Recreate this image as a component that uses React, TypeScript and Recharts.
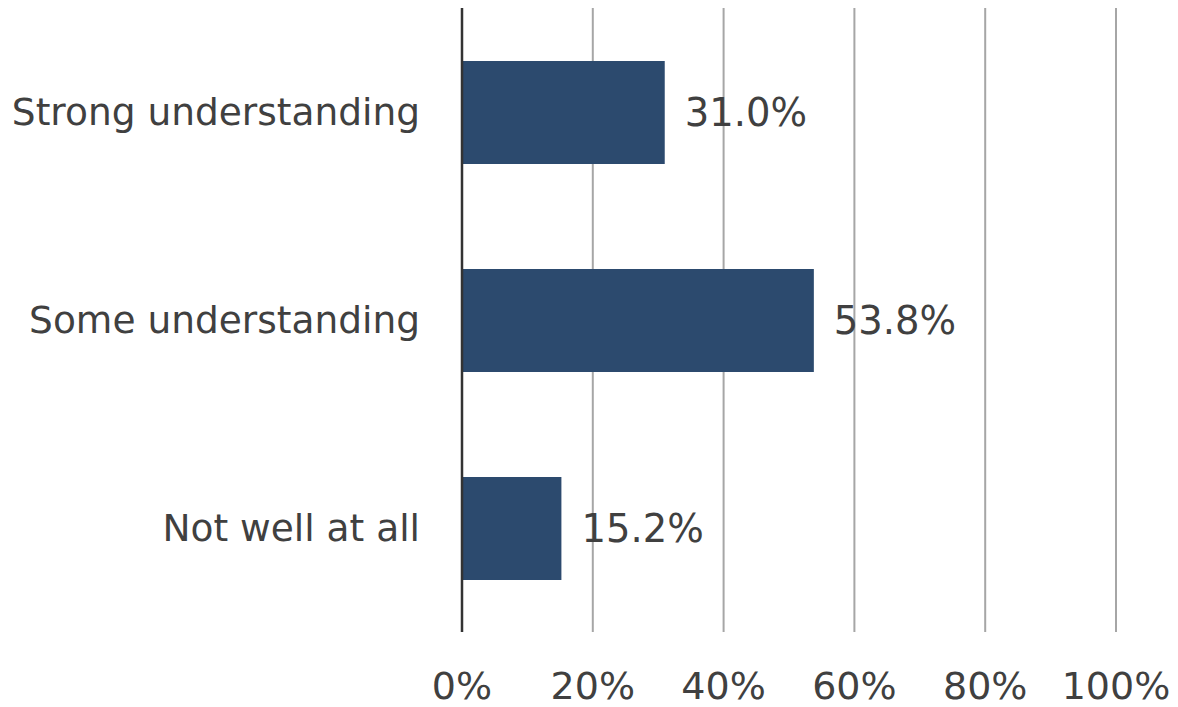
import React from 'react'
import { Bar, BarChart, CartesianGrid, LabelList, XAxis, YAxis } from 'recharts'

const categories = ['Strong understanding', 'Some understanding', 'Not well at all']
const shares = [31.0, 53.8, 15.2]
const xTicks = [0, 20, 40, 60, 80, 100]

const data = categories.map((name, i) => ({ name, value: shares[i] }))

const ink = '#404040'
const font = '"DejaVu Sans", Verdana, sans-serif'

export default function App() {
  return (
    <div style={{ width: 1178, height: 707, background: '#fff' }}>
      <style>{'body{margin:0}'}</style>
      <BarChart
        width={1178}
        height={707}
        data={data}
        layout="vertical"
        margin={{ top: 8, right: 62, bottom: 0, left: 0 }}
      >
        <CartesianGrid
          horizontal={false}
          stroke="#a6a6a6"
          strokeWidth={2}
        />
        <XAxis
          type="number"
          domain={[0, 100]}
          ticks={xTicks}
          tickFormatter={(v) => `${v}%`}
          axisLine={false}
          tickLine={false}
          tickMargin={34}
          height={75}
          interval={0}
          tick={{ fill: ink, fontSize: 38, fontFamily: font }}
        />
        <YAxis
          type="category"
          dataKey="name"
          width={462}
          axisLine={{ stroke: '#333', strokeWidth: 2.5 }}
          tickLine={false}
          tickMargin={36}
          interval={0}
          tick={{ fill: ink, fontSize: 37.5, fontFamily: font }}
        />
        <Bar
          dataKey="value"
          fill="#2c4a6e"
          barSize={103}
          isAnimationActive={false}
        >
          <LabelList
            dataKey="value"
            position="right"
            offset={20}
            formatter={(v: number) => `${v.toFixed(1)}%`}
            style={{ fill: ink, fontSize: 38.5, fontFamily: font }}
          />
        </Bar>
      </BarChart>
    </div>
  )
}
